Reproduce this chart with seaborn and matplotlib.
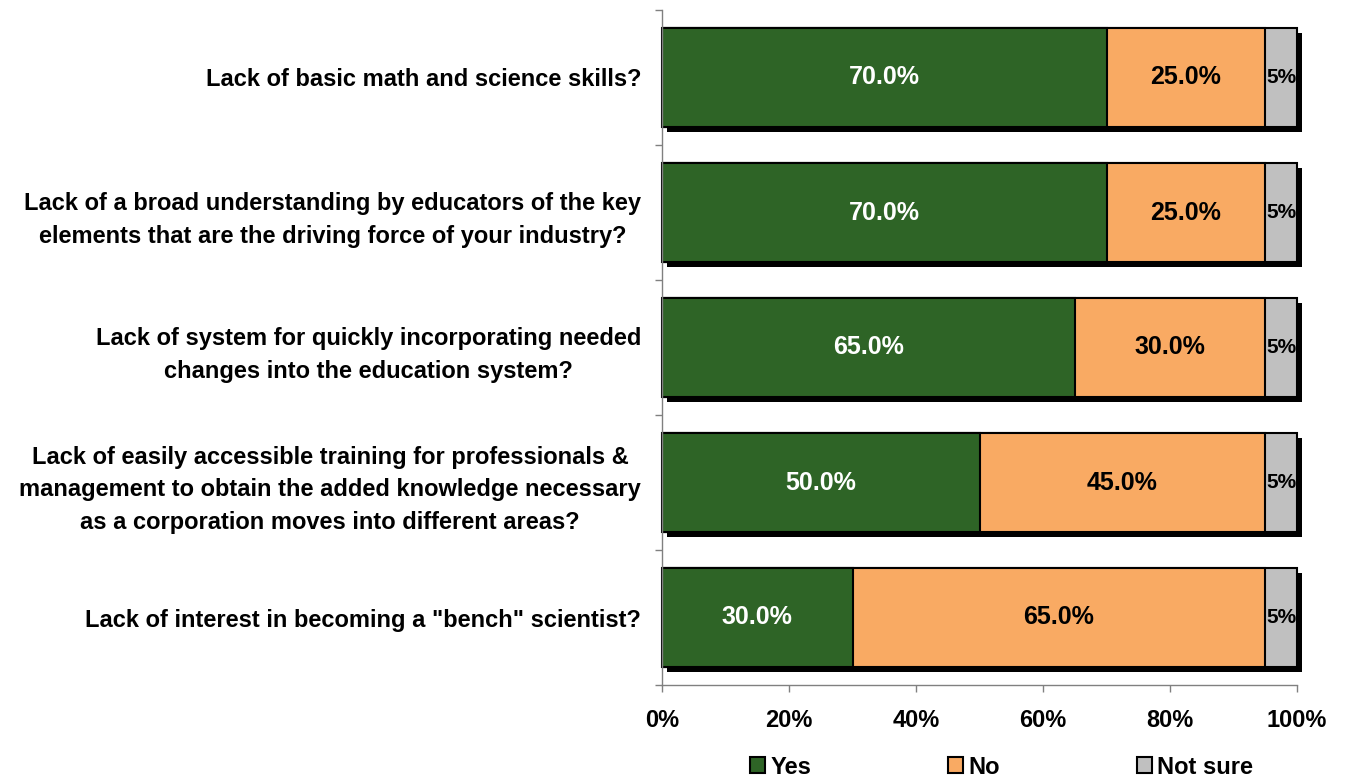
import matplotlib
matplotlib.use("Agg")
import matplotlib.pyplot as plt
import matplotlib.patheffects as pe
from matplotlib.patches import Patch
from matplotlib.ticker import FixedLocator
import seaborn as sns
import pandas as pd
import numpy as np

categories = [
    "Lack of basic math and science skills?",
    "Lack of a broad understanding by educators of the key\nelements that are the driving force of your industry?",
    "Lack of system for quickly incorporating needed\nchanges into the education system?",
    "Lack of easily accessible training for professionals &\nmanagement to obtain the added knowledge necessary\nas a corporation moves into different areas?",
    "Lack of interest in becoming a \"bench\" scientist?",
]
yes = [70.0, 70.0, 65.0, 50.0, 30.0]
no = [25.0, 25.0, 30.0, 45.0, 65.0]
not_sure = [5.0, 5.0, 5.0, 5.0, 5.0]
series_names = ["Yes", "No", "Not sure"]
colors = ["#2E6426", "#F9AA63", "#C0C0C0"]
xticks = [0, 20, 40, 60, 80, 100]
xtick_labels = ["0%", "20%", "40%", "60%", "80%", "100%"]

sns.set_style("white")
plt.rcParams["font.family"] = ["Liberation Sans", "DejaVu Sans"]
plt.rcParams["font.weight"] = "bold"
plt.rcParams["text.color"] = "black"
plt.rcParams["xtick.color"] = "black"
plt.rcParams["ytick.color"] = "black"
plt.rcParams["xtick.labelcolor"] = "black"
plt.rcParams["ytick.labelcolor"] = "black"

df = pd.DataFrame({"cat": categories, "Yes": yes, "No": no, "Not sure": not_sure})
df["c_yes"] = df["Yes"]
df["c_no"] = df["Yes"] + df["No"]
df["c_ns"] = df["c_no"] + df["Not sure"]

fig = plt.figure(figsize=(13.45, 7.82), dpi=100)
ax = fig.add_axes([662 / 1345, 1 - 685 / 782, 635 / 1345, 675 / 782])

W = 0.735
sns.barplot(data=df, x="c_ns", y="cat", color=colors[2], width=W, ax=ax,
            edgecolor="black", linewidth=1.5, saturation=1, orient="h")
for p in ax.patches:
    p.set_clip_on(False)
    p.set_path_effects([pe.SimplePatchShadow(offset=(3.5, -3.5), shadow_rgbFace="black", alpha=1.0),
                        pe.Normal()])
sns.barplot(data=df, x="c_no", y="cat", color=colors[1], width=W, ax=ax,
            edgecolor="black", linewidth=1.5, saturation=1, orient="h")
sns.barplot(data=df, x="c_yes", y="cat", color=colors[0], width=W, ax=ax,
            edgecolor="black", linewidth=1.5, saturation=1, orient="h")

for i in range(len(categories)):
    ax.text(yes[i] / 2, i, f"{yes[i]:.1f}%", ha="center", va="center",
            color="white", fontsize=18, fontweight="bold")
    ax.text(yes[i] + no[i] / 2, i, f"{no[i]:.1f}%", ha="center", va="center",
            color="black", fontsize=18, fontweight="bold")
    ax.text(yes[i] + no[i] + not_sure[i] / 2, i, f"{not_sure[i]:.0f}%", ha="center", va="center",
            color="black", fontsize=15, fontweight="bold")

ax.set_xlim(0, 100)
ax.set_ylim(len(categories) - 0.5, -0.5)
ax.set_xticks(xticks)
ax.set_xticklabels(xtick_labels, fontsize=17, fontweight="bold")
ax.set_yticks(range(len(categories)))
ax.set_yticklabels(categories, fontsize=17, fontweight="bold", ha="right",
                   multialignment="center", linespacing=1.55)
ax.yaxis.set_minor_locator(FixedLocator(np.arange(-0.5, len(categories), 1.0)))
ax.tick_params(axis="y", which="major", length=0, pad=15)
ax.tick_params(axis="y", which="minor", length=5, width=1, color="#808080", left=True, direction="out")
ax.tick_params(axis="x", which="major", length=5, width=1, color="#808080", bottom=True,
               direction="out", pad=12)
ax.set_xlabel("")
ax.set_ylabel("")
for s in ["top", "right"]:
    ax.spines[s].set_visible(False)
for s in ["left", "bottom"]:
    ax.spines[s].set_color("#808080")
    ax.spines[s].set_linewidth(1)

handles = [Patch(facecolor=c, edgecolor="black", linewidth=1.5) for c in colors]
fig.legend(handles, series_names, loc="center", bbox_to_anchor=(0.7445, 0.019), ncol=3,
           frameon=False, prop={"size": 17, "weight": "bold"}, handlelength=0.65,
           handleheight=0.65, handletextpad=0.2, columnspacing=5.8, borderpad=0.1)

fig.savefig("out.png", dpi=100)
